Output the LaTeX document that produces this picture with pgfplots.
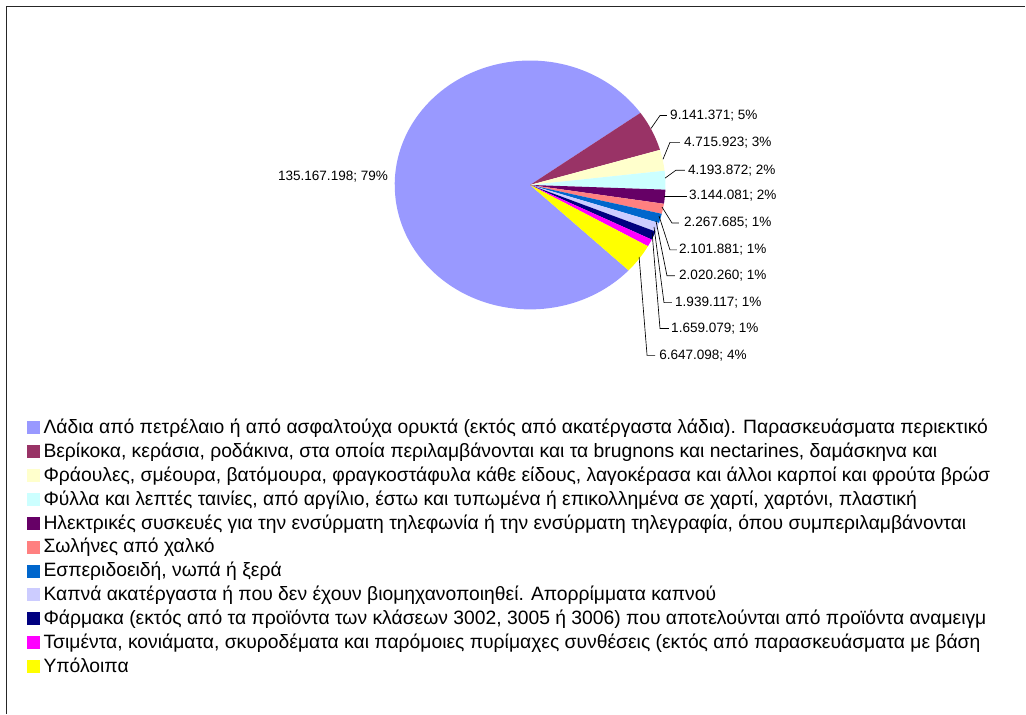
\documentclass[border=0pt]{standalone}
\usepackage{pgfplots}
\pgfplotsset{compat=1.18}
\usepackage{fontspec}
\setmainfont{Liberation Sans}

\definecolor{cA}{HTML}{9999FF}
\definecolor{cB}{HTML}{993366}
\definecolor{cC}{HTML}{FFFFCC}
\definecolor{cD}{HTML}{CCFFFF}
\definecolor{cE}{HTML}{660066}
\definecolor{cF}{HTML}{FF8080}
\definecolor{cG}{HTML}{0066CC}
\definecolor{cH}{HTML}{CCCCFF}
\definecolor{cI}{HTML}{000080}
\definecolor{cJ}{HTML}{FF00FF}
\definecolor{cK}{HTML}{FFFF00}

% values
\def\vA{135167198}
\def\vB{9141371}
\def\vC{4715923}
\def\vD{4193872}
\def\vE{3144081}
\def\vF{2267685}
\def\vG{2101881}
\def\vH{2020260}
\def\vI{1939117}
\def\vJ{1659079}
\def\vK{6647098}
\edef\tot{\fpeval{\vA+\vB+\vC+\vD+\vE+\vF+\vG+\vH+\vI+\vJ+\vK}}
% slice boundaries (clockwise)
\edef\bA{35.4}
\edef\bO{\fpeval{round(\bA+360*\vA/\tot,4)}}
\edef\bB{\fpeval{round(\bA-360*\vB/\tot,4)}}
\edef\bC{\fpeval{round(\bB-360*\vC/\tot,4)}}
\edef\bD{\fpeval{round(\bC-360*\vD/\tot,4)}}
\edef\bE{\fpeval{round(\bD-360*\vE/\tot,4)}}
\edef\bF{\fpeval{round(\bE-360*\vF/\tot,4)}}
\edef\bG{\fpeval{round(\bF-360*\vG/\tot,4)}}
\edef\bH{\fpeval{round(\bG-360*\vH/\tot,4)}}
\edef\bI{\fpeval{round(\bH-360*\vI/\tot,4)}}
\edef\bJ{\fpeval{round(\bI-360*\vJ/\tot,4)}}
\edef\bK{\fpeval{round(\bJ-360*\vK/\tot,4)}}

\newcommand\slice[3]{%
  \fill[#3] (axis cs:532.5,531.2) -- +(#1:102pt and 93.75pt)
    arc[start angle=#1, end angle=#2, x radius=102pt, y radius=93.75pt] -- cycle;}
\newcommand\lab[3]{%
  \node[anchor=west, inner sep=0pt, font=\fontsize{10.2}{12}\selectfont] at (axis cs:#1,717-#2) {#3};}

\begin{document}
\begin{tikzpicture}
\begin{axis}[
  x=0.75pt, y=0.75pt,
  xmin=0, xmax=1026, ymin=0, ymax=717,
  hide axis, clip=false,
  legend style={at={(axis cs:26.7,295.5)}, anchor=north west, draw=none, fill=none,
    inner sep=0pt, outer sep=0pt, row sep=4pt, column sep=3pt,
    font=\fontsize{14.55}{17}\selectfont,
    nodes={inner sep=0pt, text height=10.5pt, text depth=3.5pt}},
  legend cell align=left,
  legend image code/.code={\fill[#1, draw=none] (0pt,-4pt) rectangle (9.75pt,5.75pt);},
]
\path (axis cs:0,0) rectangle (axis cs:1026,717);
\draw[line width=1pt, black!85] (axis cs:6.7,0) -- (axis cs:6.7,717-6.7) -- (axis cs:1030,717-6.7);

\slice{\bO}{\bA}{cA}
\slice{\bA}{\bB}{cB}
\slice{\bB}{\bC}{cC}
\slice{\bC}{\bD}{cD}
\slice{\bD}{\bE}{cE}
\slice{\bE}{\bF}{cF}
\slice{\bF}{\bG}{cG}
\slice{\bG}{\bH}{cH}
\slice{\bH}{\bI}{cI}
\slice{\bI}{\bJ}{cJ}
\slice{\bJ}{\bK}{cK}

\begin{scope}[line width=0.5pt]
\draw (axis cs:654,717-129) -- (axis cs:663,717-116) -- (axis cs:670,717-116);
\draw (axis cs:666,717-160) -- (axis cs:673,717-143) -- (axis cs:683,717-143);
\draw (axis cs:668,717-179) -- (axis cs:679,717-171) -- (axis cs:688,717-171);
\draw (axis cs:667,717-197) -- (axis cs:690,717-197);
\draw (axis cs:665,717-208) -- (axis cs:675,717-224) -- (axis cs:682,717-224);
\draw (axis cs:662,717-217) -- (axis cs:673,717-251) -- (axis cs:680,717-251);
\draw (axis cs:659,717-222) -- (axis cs:670,717-277) -- (axis cs:678,717-277);
\draw (axis cs:657,717-228) -- (axis cs:667,717-304) -- (axis cs:675,717-304);
\draw (axis cs:655,717-233) -- (axis cs:663,717-330) -- (axis cs:672,717-330);
\draw (axis cs:642,717-258) -- (axis cs:650,717-357) -- (axis cs:658,717-357);
\end{scope}

\lab{673}{116}{9.141.371; 5\%}
\lab{687}{143}{4.715.923; 3\%}
\lab{691}{171}{4.193.872; 2\%}
\lab{692}{197}{3.144.081; 2\%}
\lab{687}{224}{2.267.685; 1\%}
\lab{682}{251}{2.101.881; 1\%}
\lab{682}{277}{2.020.260; 1\%}
\lab{678}{304}{1.939.117; 1\%}
\lab{674}{330}{1.659.079; 1\%}
\lab{662}{357}{6.647.098; 4\%}
\node[anchor=east, inner sep=0pt, font=\fontsize{10.2}{12}\selectfont] at (axis cs:390,717-177) {135.167.198; 79\%};

\addlegendimage{fill=cA}
\addlegendentry{Λάδια από πετρέλαιο ή από ασφαλτούχα ορυκτά (εκτός από ακατέργαστα λάδια). Παρασκευάσματα περιεκτικό}
\addlegendimage{fill=cB}
\addlegendentry{Βερίκοκα, κεράσια, ροδάκινα, στα οποία περιλαμβάνονται και τα brugnons και nectarines, δαμάσκηνα και}
\addlegendimage{fill=cC}
\addlegendentry{Φράουλες, σμέουρα, βατόμουρα, φραγκοστάφυλα κάθε είδους, λαγοκέρασα και άλλοι καρποί και φρούτα βρώσ}
\addlegendimage{fill=cD}
\addlegendentry{Φύλλα και λεπτές ταινίες, από αργίλιο, έστω και τυπωμένα ή επικολλημένα σε χαρτί, χαρτόνι, πλαστική}
\addlegendimage{fill=cE}
\addlegendentry{Ηλεκτρικές συσκευές για την ενσύρματη τηλεφωνία ή την ενσύρματη τηλεγραφία, όπου συμπεριλαμβάνονται}
\addlegendimage{fill=cF}
\addlegendentry{Σωλήνες από χαλκό}
\addlegendimage{fill=cG}
\addlegendentry{Εσπεριδοειδή, νωπά ή ξερά}
\addlegendimage{fill=cH}
\addlegendentry{Καπνά ακατέργαστα ή που δεν έχουν βιομηχανοποιηθεί. Απορρίμματα καπνού}
\addlegendimage{fill=cI}
\addlegendentry{Φάρμακα (εκτός από τα προϊόντα των κλάσεων 3002, 3005 ή 3006) που αποτελούνται από προϊόντα αναμειγμ}
\addlegendimage{fill=cJ}
\addlegendentry{Τσιμέντα, κονιάματα, σκυροδέματα και παρόμοιες πυρίμαχες συνθέσεις (εκτός από παρασκευάσματα με βάση}
\addlegendimage{fill=cK}
\addlegendentry{Υπόλοιπα}
\end{axis}
\end{tikzpicture}
\end{document}
